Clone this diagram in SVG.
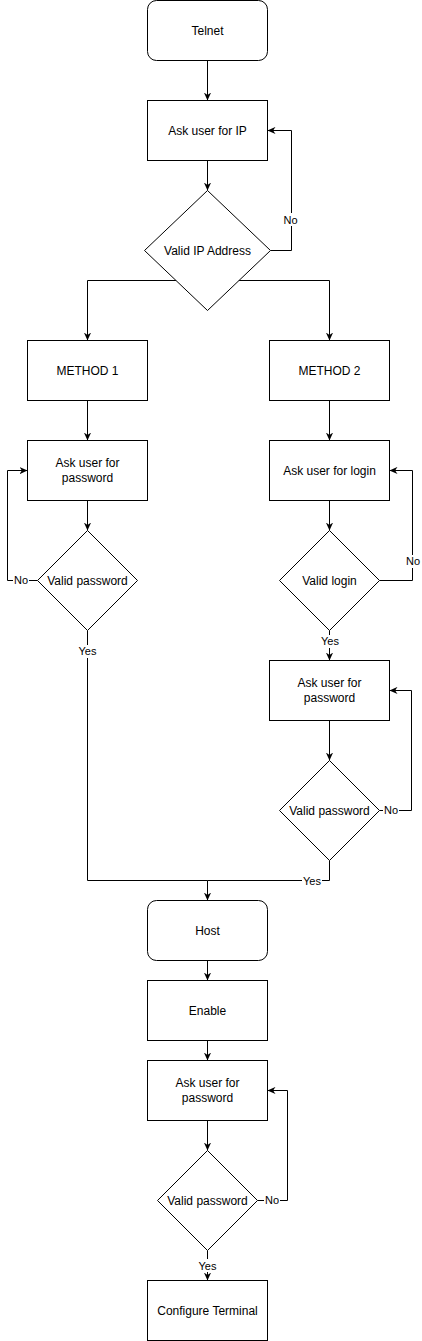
<svg xmlns="http://www.w3.org/2000/svg" width="422" height="1341" viewBox="0 0 422 1341">
<style>
.n{fill:#fff;stroke:#000;stroke-width:1}
.t{font-family:"Liberation Sans",Arial,sans-serif;font-size:12px;fill:#000;text-anchor:middle}
.e{fill:none;stroke:#000;stroke-width:1}
.l{font-family:"Liberation Sans",Arial,sans-serif;font-size:11px;fill:#000;text-anchor:middle}
.lb{fill:#fff;stroke:none}
</style>
<defs>
<marker id="a" viewBox="0 0 10 10" refX="10" refY="5" markerWidth="8" markerHeight="8" markerUnits="userSpaceOnUse" orient="auto">
<path d="M0,0.5 L10,5 L0,9.5 L3,5 z" fill="#000"/>
</marker>
</defs>
<rect width="422" height="1341" fill="#fff"/>
<g id="connectors">
<path class="e" d="M207.5,60.5 V100.5" marker-end="url(#a)"/>
<path class="e" d="M207.5,160.5 V190.5" marker-end="url(#a)"/>
<path class="e" d="M270.5,250.5 H291.5 V130.5 H267.5" marker-end="url(#a)"/>
<path class="e" d="M207.5,280.5 H87.5 V340.5" marker-end="url(#a)"/>
<path class="e" d="M207.5,280.5 H329.5 V340.5" marker-end="url(#a)"/>
<path class="e" d="M87.5,400.5 V440.5" marker-end="url(#a)"/>
<path class="e" d="M329.5,400.5 V440.5" marker-end="url(#a)"/>
<path class="e" d="M87.5,500.5 V530.5" marker-end="url(#a)"/>
<path class="e" d="M37.5,580.5 H7.5 V470.5 H27.5" marker-end="url(#a)"/>
<path class="e" d="M87.5,630.5 V880.5 H207.5 V900.5" marker-end="url(#a)"/>
<path class="e" d="M329.5,500.5 V530.5" marker-end="url(#a)"/>
<path class="e" d="M379.5,580.5 H412.5 V470.5 H389.5" marker-end="url(#a)"/>
<path class="e" d="M329.5,630.5 V660.5" marker-end="url(#a)"/>
<path class="e" d="M329.5,720.5 V760.5" marker-end="url(#a)"/>
<path class="e" d="M379.5,810.5 H411.5 V690.5 H389.5" marker-end="url(#a)"/>
<path class="e" d="M329.5,860.5 V880.5 H207.5"/>
<path class="e" d="M207.5,960.5 V980.5" marker-end="url(#a)"/>
<path class="e" d="M207.5,1040.5 V1060.5" marker-end="url(#a)"/>
<path class="e" d="M207.5,1120.5 V1150.5" marker-end="url(#a)"/>
<path class="e" d="M257.5,1200.5 H287.5 V1090.5 H267.5" marker-end="url(#a)"/>
<path class="e" d="M207.5,1250.5 V1280.5" marker-end="url(#a)"/>
<rect class="lb" x="283" y="213" width="16" height="13"/><text class="l" x="290.5" y="224">No</text>
<rect class="lb" x="13" y="574" width="16" height="13"/><text class="l" x="21" y="584">No</text>
<rect class="lb" x="78" y="645" width="20" height="13"/><text class="l" x="87.5" y="655">Yes</text>
<rect class="lb" x="405" y="555" width="16" height="13"/><text class="l" x="413" y="565">No</text>
<rect class="lb" x="320" y="635" width="20" height="13"/><text class="l" x="330" y="645">Yes</text>
<rect class="lb" x="383" y="804" width="16" height="13"/><text class="l" x="391" y="814">No</text>
<rect class="lb" x="302" y="874" width="20" height="13"/><text class="l" x="312" y="885">Yes</text>
<rect class="lb" x="264" y="1194" width="16" height="13"/><text class="l" x="272" y="1204">No</text>
<rect class="lb" x="197" y="1259" width="20" height="13"/><text class="l" x="207.5" y="1270">Yes</text>
</g>
<g id="telnet"><rect class="n" x="147.5" y="0.5" width="120" height="60" rx="9"/><text class="t" x="207.5" y="35">Telnet</text></g>
<g id="askip"><rect class="n" x="147.5" y="100.5" width="120" height="60"/><text class="t" x="207.5" y="135">Ask user for IP</text></g>
<g id="validip"><polygon class="n" points="207.5,190.5 270.5,250.5 207.5,310.5 144.5,250.5"/><text class="t" x="207.5" y="255">Valid IP Address</text></g>
<g id="method1"><rect class="n" x="27.5" y="340.5" width="120" height="60"/><text class="t" x="87.5" y="375">METHOD 1</text></g>
<g id="method2"><rect class="n" x="269.5" y="340.5" width="120" height="60"/><text class="t" x="329.5" y="375">METHOD 2</text></g>
<g id="m1pass"><rect class="n" x="27.5" y="440.5" width="120" height="60"/><text class="t" x="87.5" y="467">Ask user for</text><text class="t" x="87.5" y="482">password</text></g>
<g id="m1valid"><polygon class="n" points="87.5,530.5 137.5,580.5 87.5,630.5 37.5,580.5"/><text class="t" x="87.5" y="585">Valid password</text></g>
<g id="m2login"><rect class="n" x="269.5" y="440.5" width="120" height="60"/><text class="t" x="329.5" y="475">Ask user for login</text></g>
<g id="m2validlogin"><polygon class="n" points="329.5,530.5 379.5,580.5 329.5,630.5 279.5,580.5"/><text class="t" x="329.5" y="585">Valid login</text></g>
<g id="m2pass"><rect class="n" x="269.5" y="660.5" width="120" height="60"/><text class="t" x="329.5" y="687">Ask user for</text><text class="t" x="329.5" y="702">password</text></g>
<g id="m2valid"><polygon class="n" points="329.5,760.5 379.5,810.5 329.5,860.5 279.5,810.5"/><text class="t" x="329.5" y="815">Valid password</text></g>
<g id="host"><rect class="n" x="147.5" y="900.5" width="120" height="60" rx="9"/><text class="t" x="207.5" y="935">Host</text></g>
<g id="enable"><rect class="n" x="147.5" y="980.5" width="120" height="60"/><text class="t" x="207.5" y="1015">Enable</text></g>
<g id="enpass"><rect class="n" x="147.5" y="1060.5" width="120" height="60"/><text class="t" x="207.5" y="1087">Ask user for</text><text class="t" x="207.5" y="1102">password</text></g>
<g id="envalid"><polygon class="n" points="207.5,1150.5 257.5,1200.5 207.5,1250.5 157.5,1200.5"/><text class="t" x="207.5" y="1205">Valid password</text></g>
<g id="configure"><rect class="n" x="147.5" y="1280.5" width="120" height="60"/><text class="t" x="207.5" y="1315">Configure Terminal</text></g>
</svg>
